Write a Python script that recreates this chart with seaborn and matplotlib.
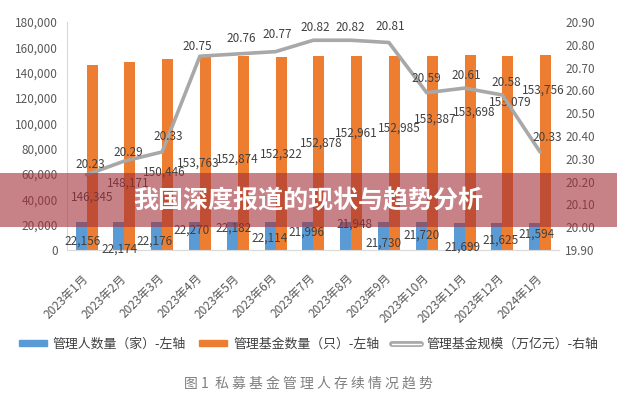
import numpy as np
import pandas as pd
import seaborn as sns
import matplotlib
matplotlib.use("Agg")
import matplotlib.pyplot as plt
from matplotlib.patches import Rectangle, Patch
from matplotlib.lines import Line2D
import matplotlib.patheffects as pe
from matplotlib.ticker import FuncFormatter, MultipleLocator

# ---- data -------------------------------------------------------------
months = ["2023年1月", "2023年2月", "2023年3月", "2023年4月", "2023年5月",
          "2023年6月", "2023年7月", "2023年8月", "2023年9月", "2023年10月",
          "2023年11月", "2023年12月", "2024年1月"]
managers = [22156, 22174, 22176, 22270, 22182, 22114, 21996,
            21948, 21730, 21720, 21699, 21625, 21594]
funds = [146345, 148171, 150446, 153763, 152874, 152322, 152878,
         152961, 152985, 153387, 153698, 153079, 153756]
scale = [20.23, 20.29, 20.33, 20.75, 20.76, 20.77, 20.82,
         20.82, 20.81, 20.59, 20.61, 20.58, 20.33]

series_names = ["管理人数量（家）-左轴", "管理基金数量（只）-左轴", "管理基金规模（万亿元）-右轴"]
title_text = "我国深度报道的现状与趋势分析"
caption_text = "图 1  私 募 基 金 管 理 人 存 续 情 况 趋 势"

# ---- label placement (pixel offsets from each mark) -------------------
mgr_lbl_dx = [2, 1, -1.6, -2.4, 1, 0, -1, 9, 0, 0, 3, 4, 1.5]
mgr_lbl_dy = [-19, -27, -19, -8, -6, -16, -10, -2, -21, -13, -25, -18, -11]
fund_lbl_dx = [0, -1.8, -3.6, -7, -6, 0, 2, 0, 4.6, 3, 4, 2, -2.6]
fund_lbl_dy = [-132.4, -120.7, -112.6, -107.8, -102.6, -96.9, -86.6,
               -76.8, -71.8, -63.3, -56.7, -45.9, -34.8]
scale_lbl_dx = [3.5, 4, 6, -3, 4, 1.5, 2, -1, 1, 0, 1.5, 4, 7]
scale_lbl_dy = [10, 9, 15, 10, 15, 17.5, 13, 13, 16.5, 14, 13, 12, 14]

# ---- style --------------------------------------------------------------
sns.set_theme(style="white")
plt.rcParams["font.family"] = ["Noto Sans CJK SC", "DejaVu Sans"]

BLUE = "#5B9BD5"
ORANGE = "#ED7D31"
GRAY = "#A8A8A8"
TXT = "#404040"
TICK = "#595959"

fig = plt.figure(figsize=(6.17, 4.0), dpi=100)
ax = fig.add_axes([67 / 617, 150 / 400, 492 / 617, 228 / 400])

df = pd.DataFrame({
    "month": months * 2,
    "value": managers + funds,
    "series": [series_names[0]] * len(months) + [series_names[1]] * len(months),
})
sns.barplot(data=df, x="month", y="value", hue="series", order=months,
            hue_order=series_names[:2], palette=[BLUE, ORANGE],
            width=0.582, gap=0, dodge=True, legend=False, ax=ax,
            saturation=1, linewidth=0, zorder=2)

ax.set_ylim(0, 180000)
ax.set_xlim(-0.516, 12.5)
ax.yaxis.set_major_locator(MultipleLocator(20000))
ax.yaxis.set_major_formatter(FuncFormatter(lambda v, p: f"{int(v):,}"))
ax.set_xlabel("")
ax.set_ylabel("")
ax.tick_params(axis="y", length=0, pad=6.5, labelsize=8.5, labelcolor=TICK)
ax.tick_params(axis="x", length=0, pad=19, labelsize=8.5, labelcolor=TICK)
for lab in ax.get_xticklabels():
    lab.set_rotation(45)
    lab.set_ha("right")
    lab.set_va("center")
    lab.set_rotation_mode("anchor")
for s in ["top", "right"]:
    ax.spines[s].set_visible(False)
for s in ["left", "bottom"]:
    ax.spines[s].set_color("#d9d9d9")
    ax.spines[s].set_linewidth(0.8)

# bar value labels
x = np.arange(len(months))
half = 0.582 / 4
for i in range(len(months)):
    ax.annotate(f"{managers[i]:,}", xy=(x[i] - half, managers[i]),
                xytext=(mgr_lbl_dx[i], mgr_lbl_dy[i]), textcoords="offset pixels",
                ha="center", va="center", fontsize=8.5, color=TXT, zorder=5)
    ax.annotate(f"{funds[i]:,}", xy=(x[i] + half, funds[i]),
                xytext=(fund_lbl_dx[i], fund_lbl_dy[i]), textcoords="offset pixels",
                ha="center", va="center", fontsize=8.5, color=TXT, zorder=5)

# fund scale line on the right axis
ax2 = ax.twinx()
sns.lineplot(x=x, y=scale, ax=ax2, color=GRAY, linewidth=2.6, zorder=3)
ax2.set_ylim(19.9, 20.9)
ax2.set_xlim(-0.516, 12.5)
ax2.yaxis.set_major_locator(MultipleLocator(0.1))
ax2.yaxis.set_major_formatter(FuncFormatter(lambda v, p: f"{v:.2f}"))
ax2.tick_params(axis="y", length=0, pad=4.5, labelsize=8.5, labelcolor=TICK)
ax2.set_ylabel("")
for s in ax2.spines.values():
    s.set_visible(False)
for i in range(len(months)):
    ax2.annotate(f"{scale[i]:.2f}", xy=(x[i], scale[i]),
                 xytext=(scale_lbl_dx[i], scale_lbl_dy[i]), textcoords="offset pixels",
                 ha="center", va="center", fontsize=8.5, color=TXT, zorder=5)

# legend
double_line = Line2D([], [], color="white", linewidth=1.0,
                     path_effects=[pe.Stroke(linewidth=4.2, foreground=GRAY), pe.Normal()])
handles = [Patch(color=BLUE), Patch(color=ORANGE), double_line]
leg = fig.legend(handles, series_names, loc="center", bbox_to_anchor=(0.5, 0.14),
                 ncol=3, frameon=False, fontsize=9.3, handlelength=2.2, handleheight=0.35,
                 handletextpad=0.45, columnspacing=1.0, labelcolor=TXT)

# caption
fig.text(0.5, 0.04, caption_text, ha="center", va="center", fontsize=10, color="#7f7f7f")

# headline banner
fig.add_artist(Rectangle((0, 1 - 227 / 400), 1, 54 / 400, transform=fig.transFigure,
                         facecolor=(163 / 255, 47 / 255, 55 / 255), alpha=0.6,
                         edgecolor="none", zorder=10))
fig.text(0.5, 1 - 201 / 400, title_text, ha="center", va="center", fontsize=18,
         fontweight="bold", color="white", zorder=11)

fig.savefig("out.png", dpi=100)
